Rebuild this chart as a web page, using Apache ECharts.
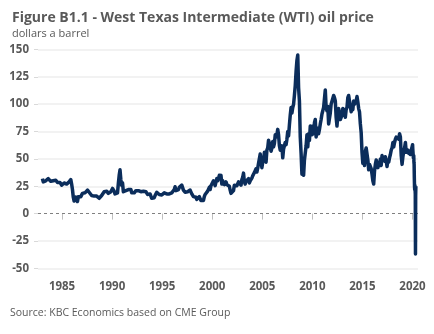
<!DOCTYPE html>
<html>
<head>
<meta charset="utf-8">
<script src="https://cdn.jsdelivr.net/npm/echarts@6/dist/echarts.min.js"></script>
<style>html,body{margin:0;padding:0;background:#fff}#c{width:434px;height:334px}</style>
</head>
<body>
<div id="c"></div>
<script>
// Monthly WTI values (dollars a barrel)
var wti1980s = [
  32, 29, 28, 30.5, 30, 31, 31.5, 32, 31, 30.5, 29.5, 29,
  29.5, 30, 31, 30.5, 30.5, 29.5, 28.5, 29, 29.5, 28.5, 27.5, 26,
  25.5, 27.5, 28, 28.5, 27.5, 27, 27, 28, 29, 30, 31, 27,
  22, 15, 11.5, 13, 15, 13, 11, 15.5, 15, 14.5, 15.5, 16,
  18.5, 17.5, 18.5, 19, 19.5, 20, 21.5, 20, 19.5, 19.5, 18.5, 16.5,
  17, 17, 16, 17.5, 17.5, 16, 15, 15.5, 14, 13.5, 14, 16.5,
  18, 18, 20, 21.5, 19.5, 20.5, 19.5, 18.5, 20, 20, 20, 21.5
];
var wti1990s = [
  23, 22, 20.5, 18, 18, 16.5, 19, 27.5, 35, 40, 31, 26,
  28, 20, 20, 21, 21, 20, 21.5, 22, 22, 23.5, 22, 19,
  19, 19, 19, 20, 21, 22.5, 22, 21, 22, 21.5, 20, 19,
  19, 20.5, 20, 20.5, 20, 18.5, 17.5, 18, 17, 18, 16, 14,
  15, 14.5, 14.5, 16.5, 18, 19.5, 19.5, 18, 17.5, 18, 18, 17,
  18, 18.5, 19, 20.5, 19, 18, 17.5, 18, 18, 17.5, 18, 19,
  19, 19.5, 22, 24.5, 21, 20.5, 21.5, 22, 24, 25, 23.5, 26,
  25, 21.5, 21, 19.5, 21, 19, 20, 19.5, 20, 21.5, 20, 18,
  17, 15.5, 15, 15.5, 15, 13, 14, 13, 15.5, 14, 12, 11,
  12.5, 12, 15.5, 17.5, 17.5, 18.5, 20.5, 21.5, 24, 22, 25.5, 26
];
var wti2000s = [
  27, 30, 30, 25.5, 29, 32, 30, 32, 35, 33, 35, 27,
  30, 29.5, 26.5, 27.5, 29, 26.5, 26.5, 27.5, 25, 21.5, 18.5, 19.5,
  20, 21, 26, 26.5, 27, 25.5, 27, 29, 30.5, 28, 26, 31,
  33, 37, 29, 27, 29.5, 30.5, 31, 32, 28, 30, 31, 32.5,
  34.5, 35, 37.5, 37, 41, 38, 41.5, 46, 47, 54.5, 48, 42,
  47, 49, 56, 50.5, 47, 58, 60, 67, 66, 61, 57, 60,
  66, 61, 64, 72, 70, 72, 77, 72, 62, 58, 59, 62,
  51, 59, 62, 65, 63, 68, 75, 71, 81, 90, 97, 92,
  97, 100, 108, 117, 130, 140, 145, 115, 103, 70, 55, 36,
  40, 35, 49, 50, 62, 72, 61, 73, 67, 80, 78, 72
];
var wti2010s = [
  80, 73, 83, 86, 70, 76, 78, 73, 77, 82, 86, 91,
  91, 97, 105, 113, 97, 94, 98, 82, 82, 92, 100, 99,
  101, 108, 106, 103, 88, 80, 90, 96, 92, 86, 86, 90,
  96, 93, 95, 88, 95, 97, 106, 108, 103, 98, 93, 99,
  95, 103, 100, 101, 103, 107, 102, 96, 93, 82, 74, 56,
  46, 51, 44, 57, 60, 60, 49, 40, 45, 46, 41, 36,
  30, 27, 39, 45, 49, 50, 42, 47, 44, 50, 44, 53,
  53, 54, 48, 52, 48, 43, 49, 47, 51, 54, 58, 60,
  65, 61, 65, 68, 70, 70, 71, 68, 73, 70, 53, 45,
  52, 57, 60, 65, 56, 55, 58, 55, 57, 54, 58, 61
];
// Weekly values for 2020
var wti2020weekly = [63, 59, 58, 54, 51, 50, 53, 47, 45, 33, 25, 22, 26, 22, 18, -37, 16, 25];
var yearTicks = [1985, 1990, 1995, 2000, 2005, 2010, 2015, 2020];

var data = [];
function addMonthly(arr, startYear) {
  arr.forEach(function (v, i) { data.push([startYear + (i + 0.5) / 12, v]); });
}
addMonthly(wti1980s, 1983);
addMonthly(wti1990s, 1990);
addMonthly(wti2000s, 2000);
addMonthly(wti2010s, 2010);
wti2020weekly.forEach(function (v, i) { data.push([2020 + (i + 0.5) / 52, v]); });

var grey = '#595959';
var font = 'Open Sans';
var chart = echarts.init(document.getElementById('c'), null, { renderer: 'canvas' });
chart.setOption({
  animation: false,
  backgroundColor: '#ffffff',
  title: {
    text: 'Figure B1.1 - West Texas Intermediate (WTI) oil price',
    subtext: 'dollars a barrel',
    left: 7, top: 6, itemGap: 3,
    textStyle: { fontFamily: font, fontSize: 14, fontWeight: 'bold', color: grey },
    subtextStyle: { fontFamily: font, fontSize: 11, color: grey }
  },
  graphic: [{
    type: 'text', left: 10, top: 308,
    style: { text: 'Source: KBC Economics based on CME Group', font: '10.5px "Open Sans"', fill: grey }
  }],
  grid: { left: 38, right: 16, top: 49.5, bottom: 65.7, containLabel: false },
  xAxis: {
    type: 'value', min: 1982.6, max: 2020.55, offset: 8,
    axisLine: { show: false },
    axisTick: { show: true, length: 6, customValues: yearTicks, lineStyle: { color: '#bfbfbf' } },
    axisLabel: { customValues: yearTicks, margin: 4, fontFamily: font, fontSize: 11.5, fontWeight: 'bold', color: grey,
      formatter: function (v) { return String(v); } },
    splitLine: { show: false }
  },
  yAxis: {
    type: 'value', min: -50, max: 150, interval: 25,
    axisLine: { show: false },
    axisTick: { show: true, length: 4, lineStyle: { color: '#d9d9d9' } },
    axisLabel: { margin: 9, fontFamily: font, fontSize: 11.5, fontWeight: 'bold', color: grey },
    splitLine: { show: true, lineStyle: { width: 1.5, color: ['#eeeeee', '#eeeeee', 'rgba(0,0,0,0)', '#eeeeee', '#eeeeee', '#eeeeee', '#eeeeee', '#eeeeee', '#eeeeee'] } }
  },
  series: [{
    type: 'line', data: data, showSymbol: false, symbol: 'none',
    lineStyle: { color: '#0b2d5b', width: 3.5, join: 'round' },
    z: 3,
    markLine: {
      silent: true, symbol: ['none', 'none'], label: { show: false },
      lineStyle: { color: '#808080', type: [3, 3], width: 1 },
      data: [{ yAxis: 0 }], z: 2
    }
  }]
});
</script>
</body>
</html>
